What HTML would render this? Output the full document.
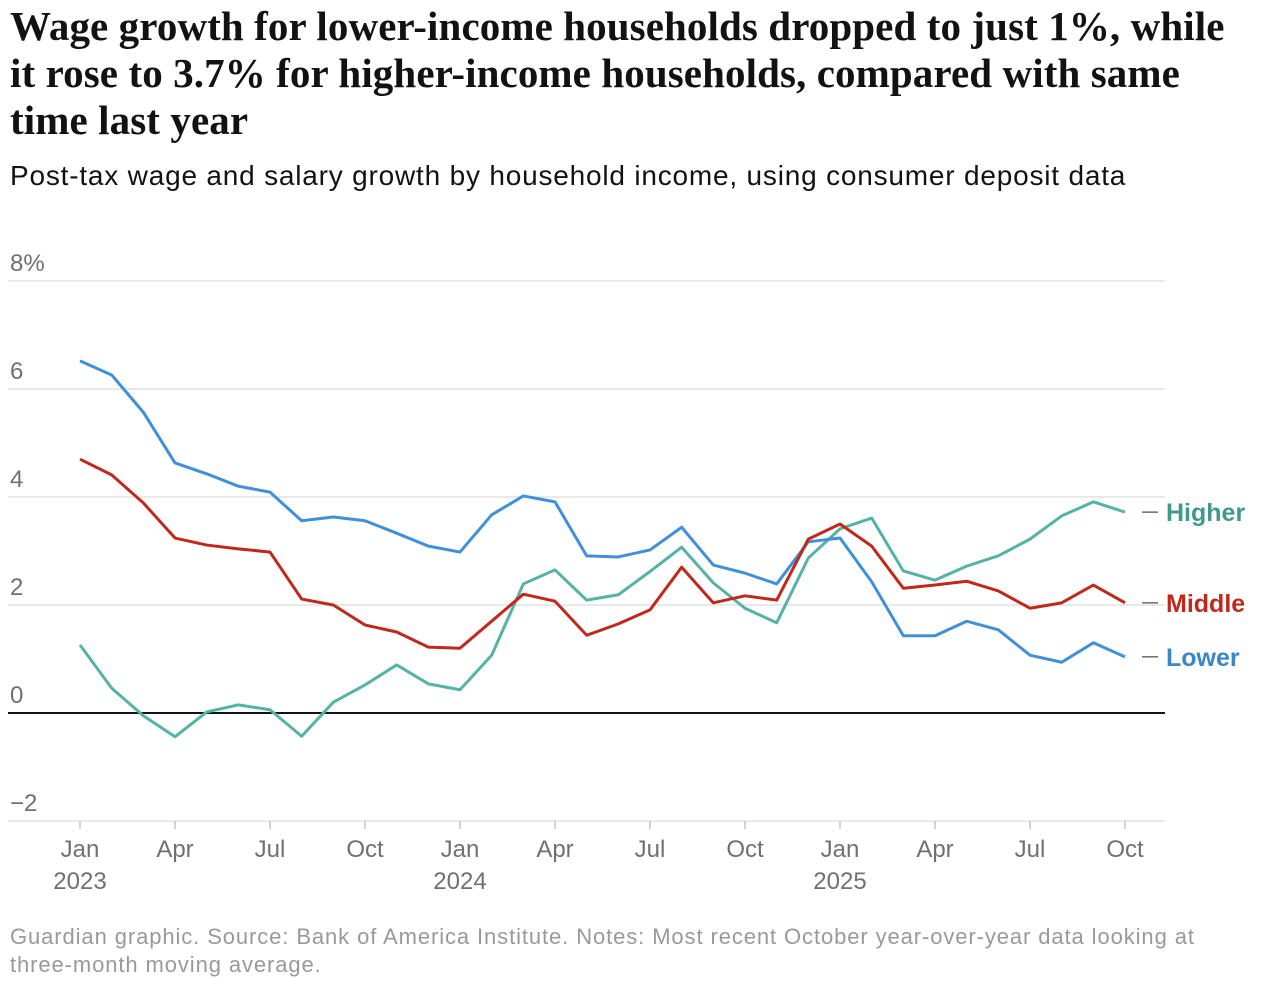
<!DOCTYPE html>
<html><head><meta charset="utf-8">
<style>
body{margin:0;background:#fff;width:1262px;height:988px;overflow:hidden;font-family:"Liberation Sans",sans-serif;}
#title{position:absolute;left:10px;top:3px;font-family:"Liberation Serif",serif;font-weight:bold;font-size:41px;line-height:47px;color:#121212;letter-spacing:0.1px;margin:0;white-space:nowrap;}
#sub{position:absolute;left:10px;top:160px;font-size:28px;letter-spacing:0.8px;color:#121212;margin:0;white-space:nowrap;}
#foot{position:absolute;left:10px;top:923px;font-size:22px;letter-spacing:0.9px;line-height:28px;color:#999;margin:0;white-space:nowrap;}
svg{position:absolute;left:0;top:0;}
</style></head><body>
<h1 id="title">Wage growth for lower-income households dropped to just 1%, while<br>it rose to 3.7% for higher-income households, compared with same<br>time last year</h1>
<p id="sub">Post-tax wage and salary growth by household income, using consumer deposit data</p>
<svg id="chart" width="1262" height="988"></svg>
<p id="foot">Guardian graphic. Source: Bank of America Institute. Notes: Most recent October year-over-year data looking at<br>three-month moving average.</p>
<script>
const months = 34; // Jan 2023 .. Oct 2025
const yTicks = [-2,0,2,4,6,8];
const yTickLabels = ["\u22122","0","2","4","6","8%"];
const xTickIdx = [0,3,6,9,12,15,18,21,24,27,30,33];
const xTickLabels = ["Jan","Apr","Jul","Oct","Jan","Apr","Jul","Oct","Jan","Apr","Jul","Oct"];
const yearLabels = {0:"2023",12:"2024",24:"2025"};
const lower = [6.52,6.26,5.57,4.63,4.43,4.2,4.09,3.56,3.63,3.56,3.33,3.09,2.98,3.67,4.02,3.91,2.91,2.89,3.02,3.44,2.74,2.59,2.39,3.17,3.24,2.43,1.43,1.43,1.7,1.54,1.07,0.94,1.3,1.04];
const middle = [4.7,4.41,3.89,3.24,3.11,3.04,2.98,2.11,2.0,1.63,1.5,1.22,1.2,1.7,2.2,2.07,1.44,1.65,1.91,2.7,2.04,2.17,2.09,3.22,3.5,3.09,2.31,2.37,2.44,2.26,1.94,2.04,2.37,2.04];
const higher = [1.26,0.46,-0.05,-0.44,0.02,0.15,0.06,-0.43,0.2,0.52,0.89,0.54,0.43,1.07,2.39,2.65,2.09,2.19,2.62,3.07,2.41,1.94,1.67,2.87,3.41,3.61,2.63,2.46,2.72,2.91,3.22,3.65,3.91,3.72];

const NS="http://www.w3.org/2000/svg";
const svg=document.getElementById('chart');
const x=i=>80+i*(1045/33);
const y=v=>713-v*54;
function mk(tag,attrs){const e=document.createElementNS(NS,tag);for(const k in attrs)e.setAttribute(k,attrs[k]);svg.appendChild(e);return e;}

yTicks.forEach((t,i)=>{
  const g=mk('line',{x1:8,x2:1165,y1:y(t),y2:y(t),stroke:t===0?'#121212':'#dcdcdc','stroke-width':t===0?2:1.3});
  
  
  const tx=mk('text',{x:10,y:y(t)-10,'font-size':24,fill:'#707070'});
  tx.textContent=yTickLabels[i];
  
  
});
xTickIdx.forEach((m,i)=>{
  const tk=mk('line',{x1:x(m),x2:x(m),y1:y(-2),y2:y(-2)+8,stroke:'#bbb','stroke-width':1.3});
  
  
  const t=mk('text',{x:x(m),y:857,'font-size':24,fill:'#707070','text-anchor':'middle'});
  t.textContent=xTickLabels[i];
  
  
  if(yearLabels[m]){
    const yt=mk('text',{x:x(m),y:889,'font-size':24,fill:'#707070','text-anchor':'middle'});
    yt.textContent=yearLabels[m];
    
    
  }
});
function series(arr,color,name,label,labelColor){
  const p=mk('polyline',{points:arr.map((v,i)=>x(i)+','+y(v)).join(' '),fill:'none',stroke:color,'stroke-width':3,'stroke-linejoin':'round'});
  
  
  const ly=y(arr[arr.length-1]);
  const d=mk('line',{x1:1142,x2:1158,y1:ly,y2:ly,stroke:'#555','stroke-width':1.3});
  
  
  const t=mk('text',{x:1166,y:ly+9,'font-size':25,'font-weight':'bold',fill:labelColor});
  t.textContent=label;
  
  
}
series(higher,'#54b3a6','higher','Higher','#3f9a8d');
series(lower,'#3f90d9','lower','Lower','#3a86cc');
series(middle,'#c0281c','middle','Middle','#c0281c');
</script>
</body></html>
